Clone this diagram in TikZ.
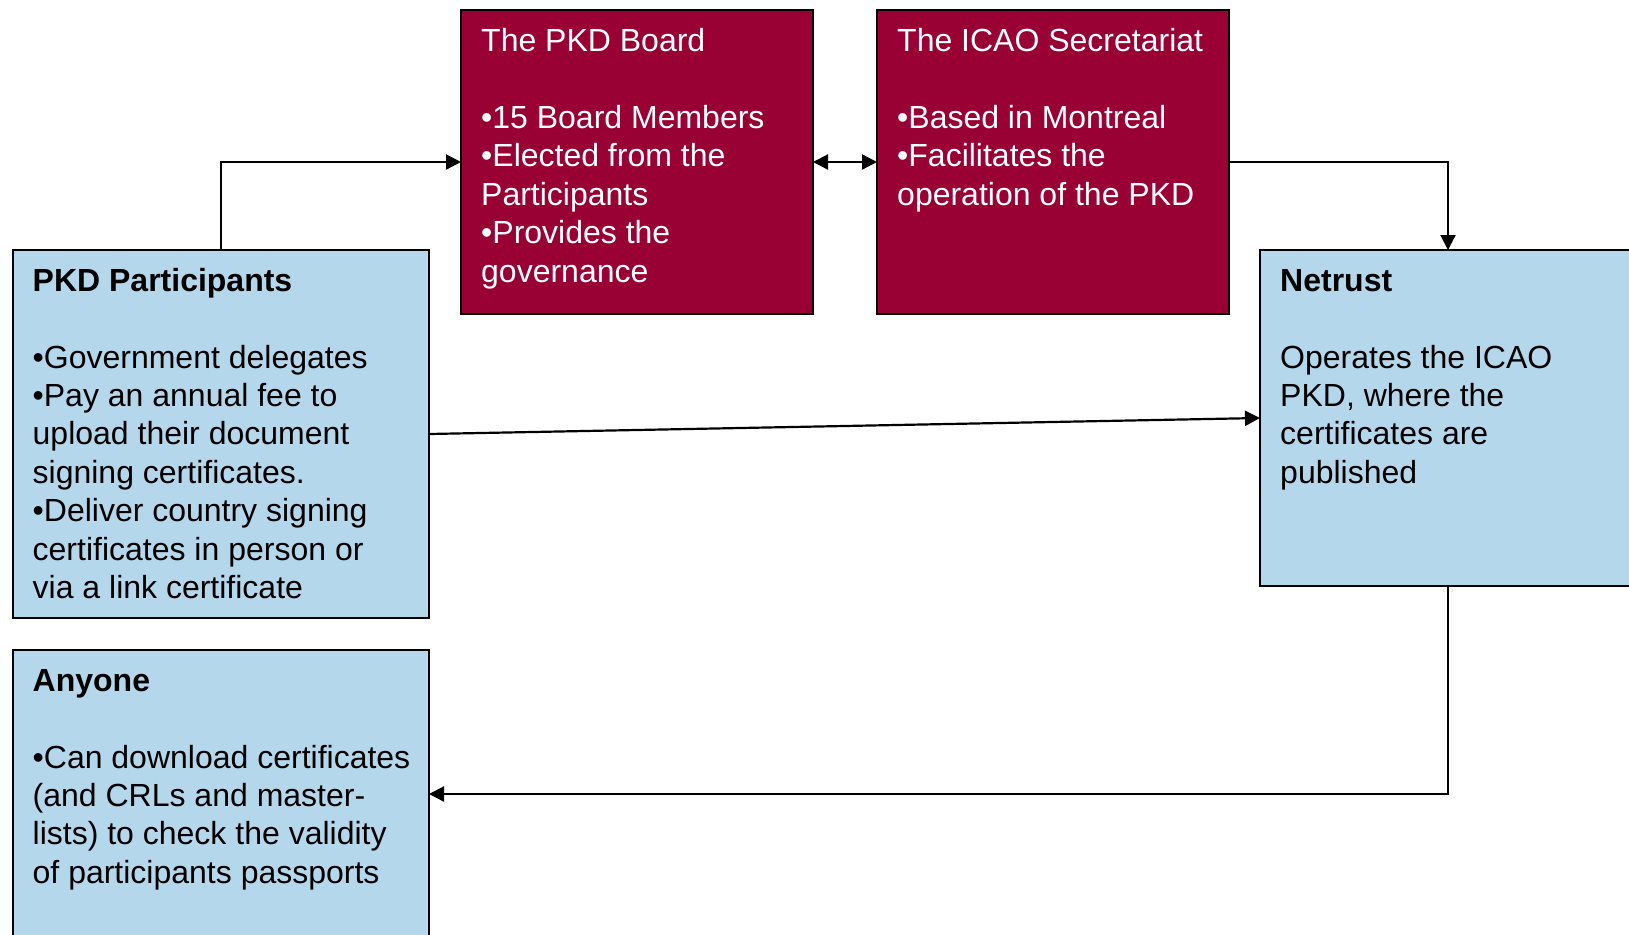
\documentclass[tikz,border=0pt]{standalone}
\usepackage{fontspec}
\setmainfont{Liberation Sans}
\usetikzlibrary{arrows.meta,calc}
\definecolor{maroon}{HTML}{990033}
\definecolor{lblue}{HTML}{B4D7EB}
\begin{document}
\begin{tikzpicture}[x=1pt,y=-1pt,
  redbox/.style={draw=black,line width=2pt,fill=maroon,inner sep=0pt,outer sep=0pt,anchor=north west},
  bluebox/.style={draw=black,line width=2pt,fill=lblue,inner sep=0pt,outer sep=0pt,anchor=north west},
  boxtext/.style={anchor=north west,inner sep=0pt,align=left,font=\fontsize{32}{38.4}\selectfont},
  conn/.style={draw=black,line width=2.2pt,-{Triangle[length=15pt,width=15pt]}},
  conn2/.style={draw=black,line width=2.2pt,{Triangle[length=15pt,width=15pt]}-{Triangle[length=15pt,width=15pt]}}
]
\useasboundingbox (0,0) rectangle (1629,934);
\begin{scope}
\clip (0,0) rectangle (1629,934);
% boxes
\node[redbox,minimum width=352pt,minimum height=303pt] (board) at (461,10.5) {};
\node[redbox,minimum width=352pt,minimum height=303pt] (icao) at (877,10.5) {};
\node[bluebox,minimum width=416.5pt,minimum height=368pt] (part) at (12.5,250) {};
\node[bluebox,minimum width=376pt,minimum height=336pt] (net) at (1260,250) {};
\node[bluebox,minimum width=416.5pt,minimum height=288pt] (any) at (12.5,650) {};

% texts
\node[boxtext,text=white] (boardtxt) at ($(board.north west)+(20,17)$)
  {\rule{0pt}{24pt}The PKD Board\\[38.4pt]
   •15 Board Members\\
   •Elected from the\\
   Participants\\
   •Provides the\\
   governance};
\node[boxtext,text=white] (icaotxt) at ($(icao.north west)+(20,17)$)
  {\rule{0pt}{24pt}The ICAO Secretariat\\[38.4pt]
   •Based in Montreal\\
   •Facilitates the\\
   operation of the PKD};
\node[boxtext,text=black] (parttxt) at ($(part.north west)+(20,17)$)
  {\rule{0pt}{24pt}\textbf{PKD Participants}\\[38.4pt]
   •Government delegates\\
   •Pay an annual fee to\\
   upload their document\\
   signing certificates.\\
   •Deliver country signing\\
   certificates in person or\\
   via a link certificate};
\node[boxtext,text=black] (nettxt) at ($(net.north west)+(20,17)$)
  {\rule{0pt}{24pt}\textbf{Netrust}\\[38.4pt]
   Operates the ICAO\\
   PKD, where the\\
   certificates are\\
   published};
\node[boxtext,text=black] (anytxt) at ($(any.north west)+(20,17)$)
  {\rule{0pt}{24pt}\textbf{Anyone}\\[38.4pt]
   •Can download certificates\\
   (and CRLs and master-\\
   lists) to check the validity\\
   of participants passports};

% connectors
\draw[conn] (part.north) |- (board.west);
\draw[conn2] (board.east) -- (icao.west);
\draw[conn] (icao.east) -| (net.north);
\draw[conn] (part.east) -- (net.west);
\draw[conn] (net.south) |- (any.east);
\end{scope}
\end{tikzpicture}
\end{document}
